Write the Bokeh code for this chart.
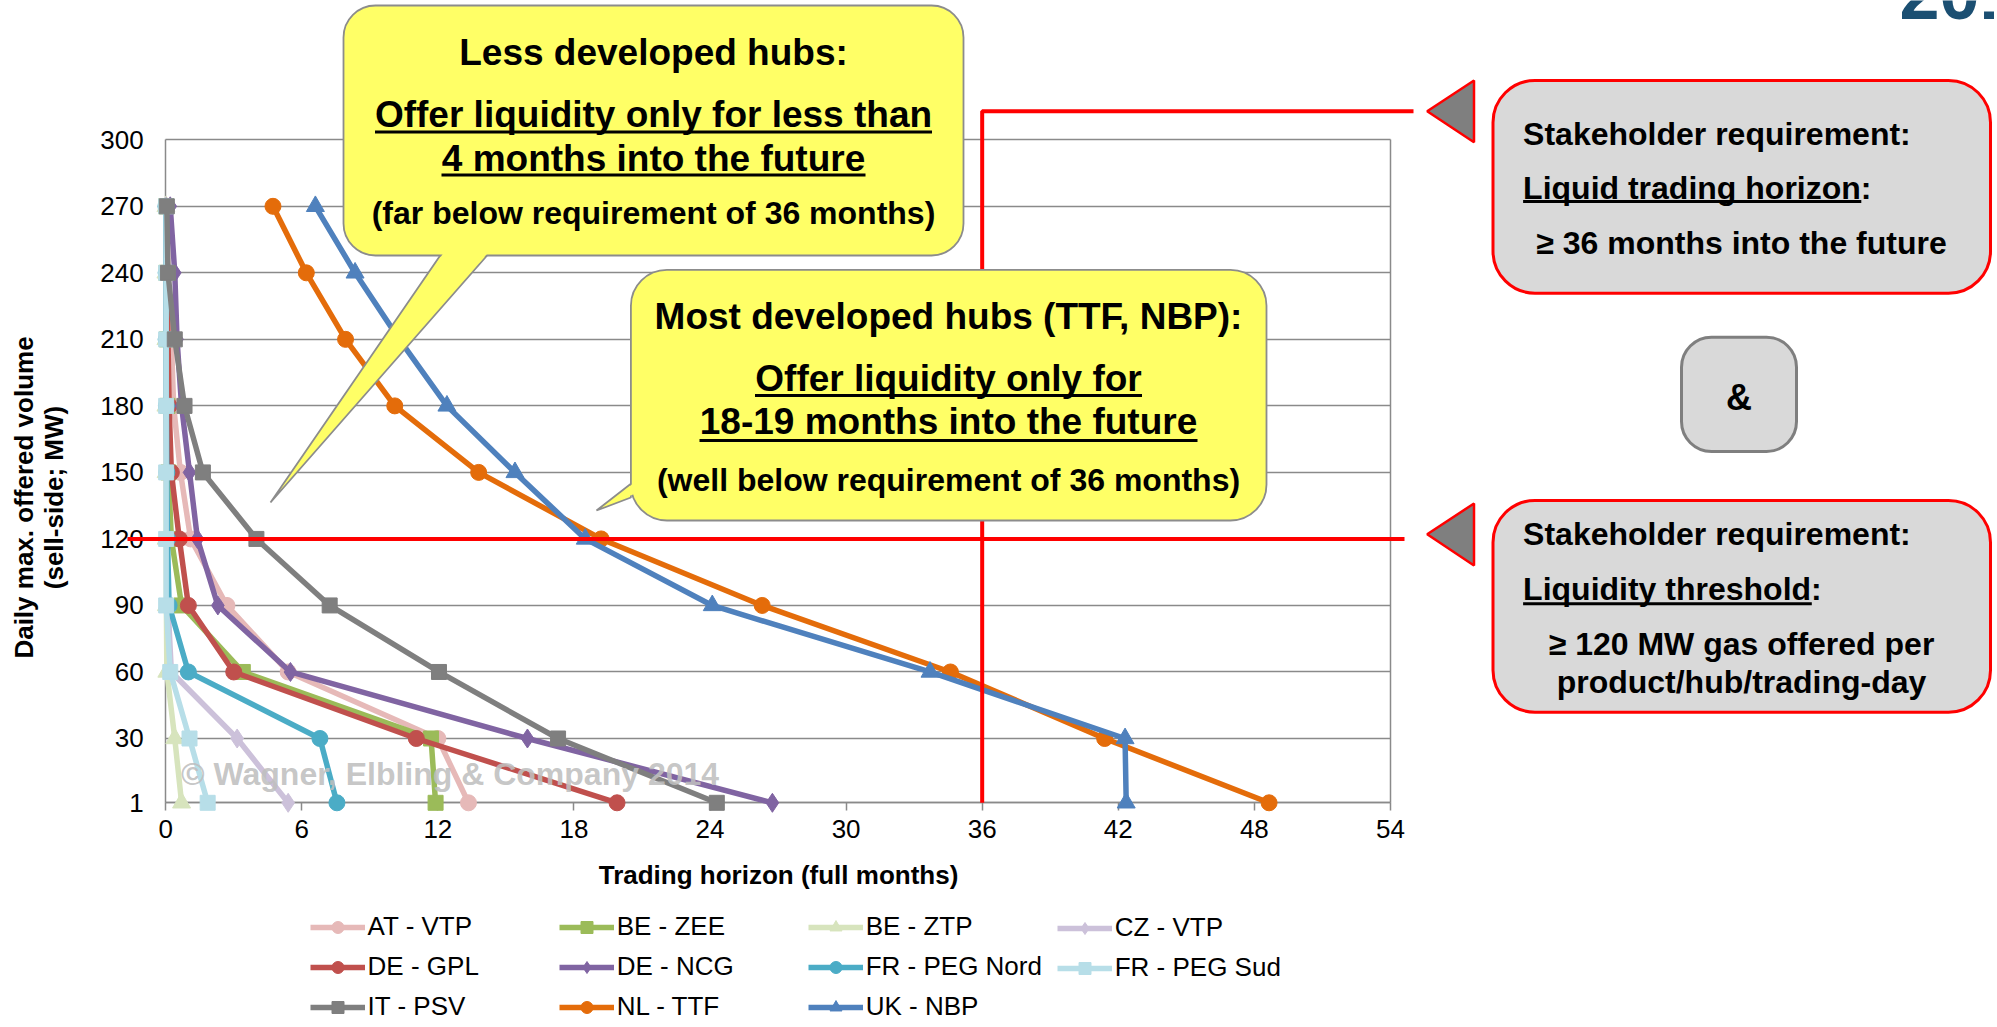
from bokeh.plotting import figure
from bokeh.models import (Range1d, LinearAxis, FixedTicker, Grid, Label, Legend,
                          LegendItem, ColumnDataSource)
from bokeh.embed import file_html
from bokeh.resources import INLINE

# ---------------- data ----------------
volume_levels = [1, 30, 60, 90, 120, 150, 180, 210, 240, 270]   # daily max. offered volume (MW)
hub_names = ["AT - VTP", "BE - ZEE", "BE - ZTP", "CZ - VTP", "DE - GPL", "DE - NCG",
             "FR - PEG Nord", "FR - PEG Sud", "IT - PSV", "NL - TTF", "UK - NBP"]
# trading horizon (full months) reached at each volume level
at_vtp      = [13.35, 12.0, 5.4, 2.7, 1.1, 0.65, 0.35, 0.25, 0.1, 0.05]
be_zee      = [11.9, 11.7, 3.4, 0.7, 0.25, 0.12, 0.08, 0.05, 0.03, 0.02]
be_ztp      = [0.7, 0.4, 0.05, 0.03, 0.02, 0.02, 0.01, 0.01, 0.01, 0.01]
cz_vtp      = [5.4, 3.15, 0.25, 0.1, 0.05, 0.03, 0.02, 0.02, 0.01, 0.01]
de_gpl      = [19.9, 11.05, 3.0, 1.0, 0.6, 0.25, 0.15, 0.1, 0.06, 0.04]
de_ncg      = [26.75, 15.95, 5.5, 2.3, 1.4, 1.05, 0.7, 0.5, 0.4, 0.2]
fr_peg_nord = [7.55, 6.8, 1.0, 0.15, 0.08, 0.05, 0.03, 0.02, 0.02, 0.01]
fr_peg_sud  = [1.85, 1.05, 0.2, 0.02, 0.02, 0.02, 0.02, 0.02, 0.02, 0.02]
it_psv      = [24.3, 17.3, 12.05, 7.23, 4.0, 1.64, 0.83, 0.4, 0.1, 0.05]
nl_ttf      = [48.65, 41.4, 34.6, 26.3, 19.2, 13.8, 10.1, 7.93, 6.2, 4.73]
uk_nbp      = [42.35, 42.3, 33.7, 24.1, 18.5, 15.4, 12.4, 10.3, 8.35, 6.6]
series_values = [at_vtp, be_zee, be_ztp, cz_vtp, de_gpl, de_ncg,
                 fr_peg_nord, fr_peg_sud, it_psv, nl_ttf, uk_nbp]
x_ticks = [0, 6, 12, 18, 24, 30, 36, 42, 48, 54]
y_ticks = [1, 30, 60, 90, 120, 150, 180, 210, 240, 270, 300]
req_months = 36      # stakeholder requirement: trading horizon
req_mw = 120         # stakeholder requirement: liquidity threshold

# ---------------- styles ----------------
colors = ["#E6B9B8", "#9BBB59", "#D7E4BD", "#CCC1DA", "#C0504D", "#8064A2",
          "#4BACC6", "#B7DEE8", "#7F7F7F", "#E46C0A", "#4F81BD"]
markers = ["circle", "square", "triangle", "diamond", "circle", "diamond",
           "circle", "square", "square", "circle", "triangle"]
msizes = {"circle": 16, "square": 15, "triangle": 18, "diamond": 19}
FONT = "Liberation Sans"
GRID = "#8A8A8A"

# ---------------- canvas / scale geometry ----------------
W, H = 1994, 1024
PPX = 22.68          # px per month
PPY = 2.2174         # px per MW
X_START = -165.2 / PPX
X_END = X_START + W / PPX
Y_END = 1 + 802.3 / PPY
Y_START = Y_END - H / PPY


def X(rx):
    return X_START + rx / PPX


def Y(ry):
    return Y_END - ry / PPY


p = figure(width=W, height=H, x_range=Range1d(X_START, X_END), y_range=Range1d(Y_START, Y_END),
           x_axis_type=None, y_axis_type=None, toolbar_location=None, output_backend="svg",
           min_border=0, outline_line_color=None, title=None,
           background_fill_color="white", border_fill_color="white")

# ---------------- axes and grid ----------------
xaxis = LinearAxis(fixed_location=1, bounds=(0, 54), ticker=FixedTicker(ticks=x_ticks))
yaxis = LinearAxis(fixed_location=0, bounds=(1, 300), ticker=FixedTicker(ticks=y_ticks))
raxis = LinearAxis(fixed_location=54, bounds=(1, 300), ticker=FixedTicker(ticks=[]))
for ax in (xaxis, yaxis, raxis):
    ax.axis_line_color = GRID
    ax.axis_line_width = 1.5
    ax.major_tick_line_color = GRID
    ax.major_tick_line_width = 1.5
    ax.minor_tick_line_color = None
    ax.major_label_text_font = FONT
    ax.major_label_text_font_size = "26px"
    ax.major_label_text_color = "black"
    ax.level = "underlay"
xaxis.major_tick_out = 8
xaxis.major_tick_in = 0
xaxis.major_label_standoff = 9
yaxis.major_tick_out = 0
yaxis.major_tick_in = 0
yaxis.major_label_standoff = 22
raxis.major_tick_out = 0
raxis.major_tick_in = 0
raxis.major_label_text_font_size = "0px"
p.add_layout(xaxis, "below")
p.add_layout(yaxis, "left")
p.add_layout(raxis, "right")

try:
    grid = Grid(dimension=1, ticker=FixedTicker(ticks=y_ticks), bounds=(1, 300),
                cross_bounds=(0, 54), grid_line_color=GRID, grid_line_width=1.5)
    p.add_layout(grid, "center")
except Exception:
    p.segment(x0=[0] * len(y_ticks), x1=[54] * len(y_ticks), y0=y_ticks, y1=y_ticks,
              line_color=GRID, line_width=1.5)

# ---------------- series ----------------
rends = []
for name, vals, col, mk in zip(hub_names, series_values, colors, markers):
    src = ColumnDataSource(dict(x=vals, y=volume_levels))
    lr = p.line("x", "y", source=src, line_color=col, line_width=5.5)
    sr = p.scatter("x", "y", source=src, marker=mk, size=msizes[mk],
                   fill_color=col, line_color=col)
    rends.append([lr, sr])

# ---------------- requirement lines ----------------
RED = "#FF0000"
p.line(x=[X(127), X(1404)], y=[req_mw, req_mw], line_color=RED, line_width=4)
p.line(x=[req_months, req_months, X(1413)], y=[1, Y(110.7), Y(110.7)],
       line_color=RED, line_width=4)

# ---------------- callouts ----------------
YELLOW = "#FFFF66"
CBORD = "#8C8C8C"


def rbox(l, r, t, b, fill, line, lw, rad):
    kw = dict(left=X(l), right=X(r), top=Y(t), bottom=Y(b), fill_color=fill,
              line_color=line, line_width=lw)
    try:
        p.quad(border_radius=rad, **kw)
    except Exception:
        p.quad(**kw)


# pointer 1 (less developed)
p.patch(x=[X(439.7), X(270), X(486.6)], y=[Y(255), Y(502), Y(255)],
        fill_color=YELLOW, line_color=CBORD, line_width=1.8)
# pointer 2 (most developed)
p.patch(x=[X(630.4), X(596), X(630.4)], y=[Y(483.3), Y(510), Y(497)],
        fill_color=YELLOW, line_color=CBORD, line_width=1.8)
rbox(343, 963, 5, 255, YELLOW, CBORD, 1.8, 32)
rbox(630.4, 1266, 269.3, 520, YELLOW, CBORD, 1.8, 36)
# merge pointers into boxes
p.patch(x=[X(447.4), X(493.0), X(479.0), X(436.4)], y=[Y(246), Y(246), Y(262), Y(262)],
        fill_color=YELLOW, line_color=None)
p.patch(x=[X(624), X(638), X(638), X(624)], y=[Y(490.0), Y(478.5), Y(491.8), Y(497.6)],
        fill_color=YELLOW, line_color=None)

# right-side requirement boxes
p.patch(x=[X(1426.7), X(1473.5), X(1473.5)], y=[Y(110.7), Y(80), Y(141.7)],
        fill_color="#7F7F7F", line_color=RED, line_width=2.5)
p.patch(x=[X(1426.7), X(1473.5), X(1473.5)], y=[Y(533.7), Y(503), Y(565)],
        fill_color="#7F7F7F", line_color=RED, line_width=2.5)
rbox(1492.5, 1990, 80, 292.7, "#D9D9D9", RED, 3, 42)
rbox(1492.5, 1990, 500, 711.7, "#D9D9D9", RED, 3, 42)
rbox(1681, 1796, 336.7, 451, "#D9D9D9", "#7F7F7F", 3, 30)

# underlines
ul = [(653 - 278.5, 653 + 278.5, 131.5), (653 - 212, 653 + 212, 174.5),
      (948 - 193.5, 948 + 193.5, 395), (948 - 249, 948 + 249, 440),
      (1522.6, 1860.8, 201), (1522.6, 1811.3, 603.3)]
for x0, x1, yy in ul:
    p.line(x=[X(x0), X(x1)], y=[Y(yy), Y(yy)], line_color="black", line_width=3)


# ---------------- texts ----------------
def txt(rx, ry, s, size, align="center", bold=True, color="black", angle=0, alpha=1.0):
    p.add_layout(Label(x=X(rx), y=Y(ry), text=s, text_font=FONT, text_font_size=f"{size}px",
                       text_font_style="bold" if bold else "normal", text_color=color,
                       text_align=align, text_baseline="middle", angle=angle,
                       angle_units="deg", text_alpha=alpha))


txt(653, 51.5, "Less developed hubs:", 37)
txt(653, 114, "Offer liquidity only for less than", 37)
txt(653, 158.3, "4 months into the future", 37)
txt(653, 212, "(far below requirement of 36 months)", 32)

txt(948, 316, "Most developed hubs (TTF, NBP):", 37)
txt(948, 377.5, "Offer liquidity only for", 37)
txt(948, 421.3, "18-19 months into the future", 37)
txt(948, 479.5, "(well below requirement of 36 months)", 32)

txt(1522.6, 133, "Stakeholder requirement:", 32, align="left")
txt(1522.6, 187, "Liquid trading horizon:", 32, align="left")
txt(1741, 242, "\u2265 36 months into the future", 32)
txt(1738.5, 397, "&", 36)
txt(1522.6, 533.3, "Stakeholder requirement:", 32, align="left")
txt(1522.6, 588.3, "Liquidity threshold:", 32, align="left")
txt(1741, 643.3, "\u2265 120 MW gas offered per", 32)
txt(1741, 681, "product/hub/trading-day", 32)

txt(1899, -7, "2013", 72, align="left", color="#1B4F72")

txt(778, 874, "Trading horizon (full months)", 26)
txt(23, 497, "Daily max. offered volume", 26, angle=90)
txt(53, 497, "(sell-side; MW)", 26, angle=90)

txt(180.5, 773, "\u00a9 Wagner, Elbling & Company 2014", 32, align="left", color="#BFBFBF", alpha=0.9)

# ---------------- legend (4 columns x 3 rows) ----------------
col_x = [309.6, 558.7, 807.7, 1056.7]
GH, SP = 30, 9
row1_top = 929 - GH / 2
for c in range(4):
    idx = list(range(c, len(hub_names), 4))
    items = [LegendItem(label=hub_names[i], renderers=rends[i]) for i in idx]
    n = len(idx)
    bottom = row1_top + n * GH + (n - 1) * SP
    leg = Legend(items=items, location=(col_x[c], H - bottom), orientation="vertical",
                 glyph_width=55, glyph_height=GH, label_height=GH, label_standoff=3,
                 spacing=SP, padding=0, margin=0, border_line_color=None,
                 background_fill_alpha=0, label_text_font=FONT, label_text_font_size="26px",
                 label_text_color="black")
    p.add_layout(leg, "center")

open("out.html", "w").write(file_html(p, INLINE))
